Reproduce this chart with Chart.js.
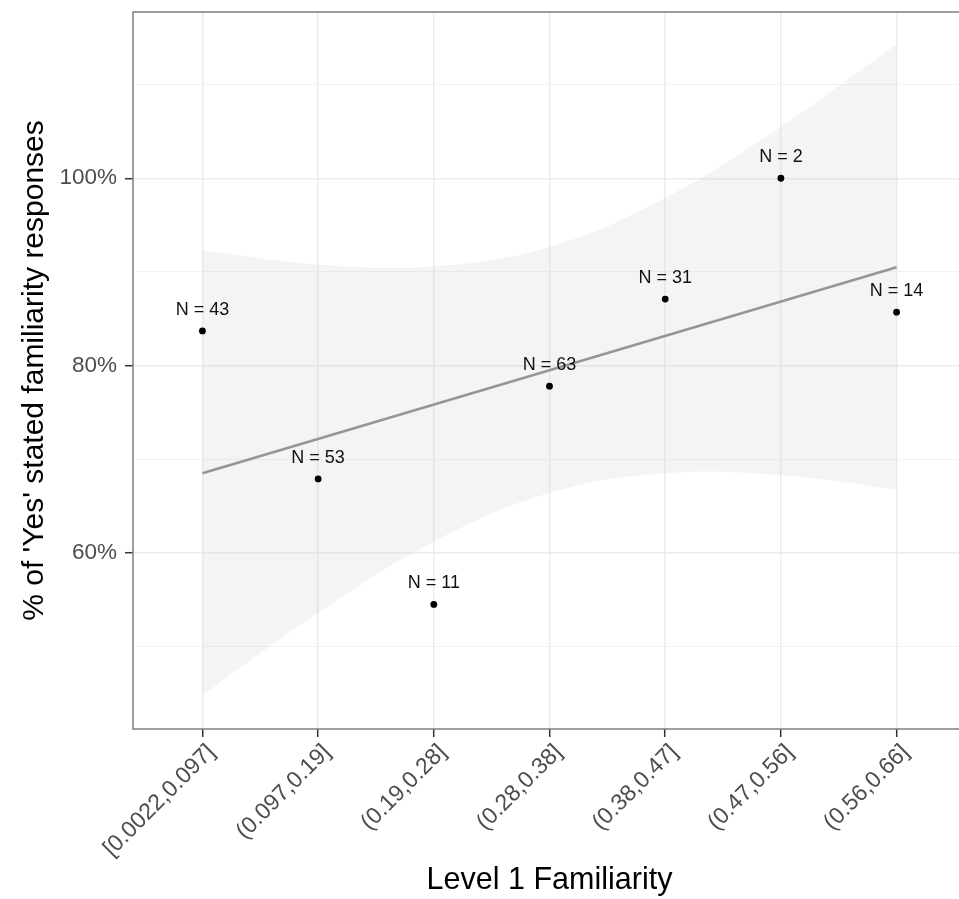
<!DOCTYPE html>
<html>
<head>
<meta charset="utf-8">
<script src="https://cdn.jsdelivr.net/npm/chart.js@4/dist/chart.umd.min.js"></script>
<style>
html,body{margin:0;padding:0;background:#ffffff;overflow:hidden;}
#wrap{width:970px;height:899px;}
</style>
</head>
<body>
<div id="wrap"><canvas id="c" width="970" height="899"></canvas></div>
<script>
// ---- data ----
const categories = ['[0.0022,0.097]', '(0.097,0.19]', '(0.19,0.28]', '(0.28,0.38]', '(0.38,0.47]', '(0.47,0.56]', '(0.56,0.66]'];
const pctYes = [83.7, 67.9, 54.5, 77.8, 87.1, 100, 85.7];
const sampleN = [43, 53, 11, 63, 31, 2, 14];
const fitLine = [68.5, 90.5];            // fitted line at first and last category
const bandUpper = [92.3, 90.8, 90.6, 92.7, 97.9, 105.5, 114.3];
const bandLower = [44.8, 53.6, 61.2, 66.4, 68.5, 68.3, 66.8];
const yTickValues = [50, 60, 70, 80, 90, 100, 110];
const yLabelled = [60, 80, 100];

const FONT = '"Liberation Sans", Arial, Helvetica, sans-serif';

const pts = pctYes.map((v, i) => ({x: i + 1, y: v}));
const fitPts = [{x: 1, y: fitLine[0]}, {x: categories.length, y: fitLine[1]}];
const upPts = bandUpper.map((v, i) => ({x: i + 1, y: v}));
const loPts = bandLower.map((v, i) => ({x: i + 1, y: v}));

const nLabels = {
  id: 'nLabels',
  afterDatasetsDraw(chart) {
    const ctx = chart.ctx;
    const meta = chart.getDatasetMeta(0);
    ctx.save();
    ctx.font = '18px ' + FONT;
    ctx.fillStyle = '#111111';
    ctx.textAlign = 'center';
    ctx.textBaseline = 'alphabetic';
    meta.data.forEach((p, i) => {
      ctx.fillText('N = ' + sampleN[i], p.x, p.y - 16);
    });
    ctx.restore();
  }
};

// ggplot anchors rotated labels at their top-right corner; nudge Chart.js labels to match
const labelNudge = {
  id: 'labelNudge',
  afterLayout(chart) {
    try {
      const s = chart.scales.x;
      s._labelItems = null;
      const items = s.getLabelItems(chart.chartArea);
      items.forEach(it => {
        if (it.options && it.options.translation) {
          it.options.translation[0] += 9;
          it.options.translation[1] += 2;
        }
      });
    } catch (e) {}
  }
};

const panelBorder = {
  id: 'panelBorder',
  afterDraw(chart) {
    const {ctx, chartArea: a} = chart;
    ctx.save();
    ctx.strokeStyle = '#7f7f7f';
    ctx.lineWidth = 1.5;
    ctx.strokeRect(a.left, a.top, a.right - a.left, a.bottom - a.top);
    ctx.restore();
  }
};

new Chart(document.getElementById('c'), {
  type: 'scatter',
  data: {
    datasets: [
      {
        label: 'points',
        data: pts,
        showLine: false,
        pointRadius: 3.4,
        pointBackgroundColor: '#000000',
        pointBorderColor: '#000000',
        pointBorderWidth: 0
      },
      {
        label: 'fit',
        data: fitPts,
        showLine: true,
        borderColor: '#969696',
        borderWidth: 2.6,
        pointRadius: 0,
        tension: 0,
        fill: false
      },
      {
        label: 'upper',
        data: upPts,
        showLine: true,
        borderWidth: 0,
        borderColor: 'rgba(0,0,0,0)',
        pointRadius: 0,
        tension: 0.4,
        fill: '+1',
        backgroundColor: 'rgba(200,200,200,0.2)'
      },
      {
        label: 'lower',
        data: loPts,
        showLine: true,
        borderWidth: 0,
        borderColor: 'rgba(0,0,0,0)',
        pointRadius: 0,
        tension: 0.4,
        fill: false
      }
    ]
  },
  options: {
    responsive: false,
    animation: false,
    layout: {padding: {top: 12, left: 0, right: 0, bottom: 0}},
    plugins: {legend: {display: false}, tooltip: {enabled: false}},
    scales: {
      x: {
        type: 'linear',
        min: 0.4,
        max: 7.6,
        afterBuildTicks: s => { s.ticks = categories.map((c, i) => ({value: i + 1})); },
        afterFit: s => { s.height = 170; s.paddingLeft = 0; s.paddingRight = 0; },
        ticks: {
          callback: v => categories[Math.round(v) - 1] ?? '',
          minRotation: 45,
          maxRotation: 45,
          autoSkip: false,
          color: '#4D4D4D',
          font: {family: FONT, size: 23},
          padding: 0
        },
        grid: {color: '#EBEBEB', lineWidth: 1.4, tickColor: '#333333', tickLength: 8, tickWidth: 1.5},
        border: {display: false},
        title: {display: true, text: 'Level 1 Familiarity', color: '#000000',
                font: {family: FONT, size: 30.5}, padding: {top: 0, bottom: 0}}
      },
      y: {
        type: 'linear',
        min: 41.2,
        max: 117.75,
        afterBuildTicks: s => { s.ticks = yTickValues.map(v => ({value: v})); },
        afterFit: s => { s.width = 133; s.paddingTop = 0; s.paddingBottom = 0; },
        ticks: {
          callback: v => yLabelled.includes(v) ? v + '%' : '',
          color: '#4D4D4D',
          font: {family: FONT, size: 22.5},
          padding: 8
        },
        grid: {
          color: c => (c.tick && yLabelled.includes(c.tick.value)) ? '#EBEBEB' : '#F1F1F1',
          lineWidth: c => (c.tick && yLabelled.includes(c.tick.value)) ? 1.4 : 0.9,
          tickColor: c => (c.tick && yLabelled.includes(c.tick.value)) ? '#333333' : 'rgba(0,0,0,0)',
          tickLength: 8,
          tickWidth: 1.5
        },
        border: {display: false},
        title: {display: true, text: "% of 'Yes' stated familiarity responses", color: '#000000',
                font: {family: FONT, size: 30}, padding: {top: 17, bottom: 0}}
      }
    }
  },
  plugins: [nLabels, labelNudge, panelBorder]
});
</script>
</body>
</html>
